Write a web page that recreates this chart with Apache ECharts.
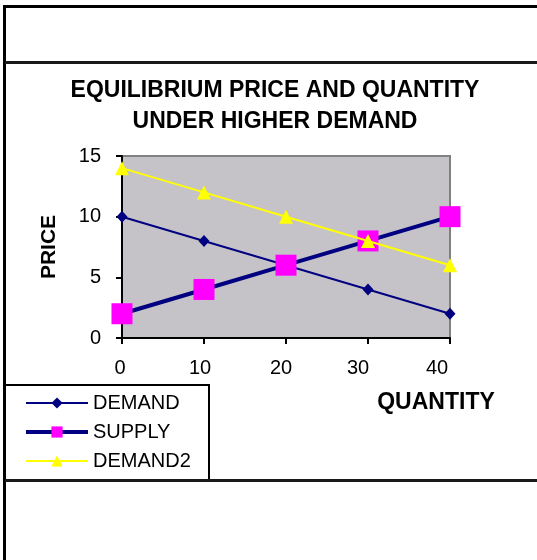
<!DOCTYPE html>
<html>
<head>
<meta charset="utf-8">
<script src="https://cdn.jsdelivr.net/npm/echarts@6/dist/echarts.min.js"></script>
<style>
  html, body { margin: 0; padding: 0; background: #fff; }
  #chart { width: 537px; height: 560px; }
</style>
</head>
<body>
<div id="chart"></div>
<script>
// Quantities along the horizontal axis
const quantities = ['0', '10', '20', '30', '40'];
// Price for each quantity
const demand = [10, 8, 6, 4, 2];
const supply = [2, 4, 6, 8, 10];
const demand2 = [14, 12, 10, 8, 6];
// Price axis range
const priceMin = 0;
const priceMax = 15;
const priceStep = 5;

const FONT = '"Liberation Sans", Arial, sans-serif';

// small per-label nudges for the quantity labels
const labelShift = [2, 4, 5, 10, 13];
const rich = {};
labelShift.forEach((s, i) => {
  rich['q' + i] = { fontSize: 20, fontFamily: FONT, color: '#000', padding: [0, s * 2, 0, 0] };
});

const chart = echarts.init(document.getElementById('chart'), null, { renderer: 'canvas' });

chart.setOption({
  animation: false,
  backgroundColor: '#fff',
  title: {
    text: 'EQUILIBRIUM PRICE AND QUANTITY\nUNDER HIGHER DEMAND',
    left: 270,
    textAlign: 'center',
    top: 70,
    textStyle: {
      fontFamily: FONT,
      fontWeight: 'bold',
      fontSize: 23,
      lineHeight: 31,
      color: '#000'
    }
  },
  grid: {
    left: 122,
    right: 87,
    top: 156,
    bottom: 222,
    show: true,
    backgroundColor: '#c5c3c7',
    borderColor: '#808080',
    borderWidth: 2
  },
  xAxis: {
    type: 'category',
    data: quantities,
    boundaryGap: false,
    axisLine: { lineStyle: { color: '#000', width: 2 } },
    axisTick: { show: true, length: 6, alignWithLabel: true, lineStyle: { color: '#000', width: 2 } },
    axisLabel: {
      margin: 20,
      interval: 0,
      formatter: (v, i) => '{q' + i + '|' + v + '}',
      rich: rich
    },
    splitLine: { show: false }
  },
  yAxis: {
    type: 'value',
    min: priceMin,
    max: priceMax,
    interval: priceStep,
    name: 'PRICE',
    nameLocation: 'middle',
    nameRotate: 90,
    nameGap: 62,
    nameTextStyle: {
      fontFamily: FONT,
      fontWeight: 'bold',
      fontSize: 21,
      color: '#000'
    },
    axisLine: { show: true, lineStyle: { color: '#000', width: 2 } },
    axisTick: { show: true, length: 6, lineStyle: { color: '#000', width: 2 } },
    axisLabel: {
      margin: 21,
      fontFamily: FONT,
      fontSize: 20,
      color: '#000'
    },
    splitLine: { show: false }
  },
  legend: {
    orient: 'vertical',
    left: 19,
    top: 388,
    itemWidth: 62,
    itemHeight: 14,
    itemGap: 9,
    textStyle: { fontFamily: FONT, fontSize: 20, color: '#000' },
    data: [
      { name: 'DEMAND', lineStyle: { width: 2 } },
      { name: 'SUPPLY', lineStyle: { width: 4 } },
      { name: 'DEMAND2', lineStyle: { width: 2 } }
    ]
  },
  series: [
    {
      name: 'DEMAND',
      type: 'line',
      data: demand,
      symbol: 'diamond',
      symbolSize: [11, 12],
      lineStyle: { color: '#000080', width: 2 },
      itemStyle: { color: '#000080' },
      z: 2
    },
    {
      name: 'SUPPLY',
      type: 'line',
      data: supply,
      symbol: 'rect',
      symbolSize: 21,
      lineStyle: { color: '#000080', width: 4 },
      itemStyle: { color: '#ff00ff' },
      z: 3
    },
    {
      name: 'DEMAND2',
      type: 'line',
      data: demand2,
      symbol: 'triangle',
      symbolSize: 14,
      lineStyle: { color: '#ffff00', width: 2 },
      itemStyle: { color: '#ffff00' },
      z: 4
    }
  ],
  graphic: [
    // outer frame: top and left edges
    { type: 'rect', shape: { x: 3, y: 5, width: 534, height: 3 }, style: { fill: '#000' } },
    { type: 'rect', shape: { x: 3, y: 5, width: 3, height: 555 }, style: { fill: '#000' } },
    // divider above the chart
    { type: 'rect', shape: { x: 5, y: 61, width: 532, height: 3 }, style: { fill: '#1a1a1a' } },
    // divider below the chart
    { type: 'rect', shape: { x: 5, y: 479, width: 532, height: 3 }, style: { fill: '#1a1a1a' } },
    // legend box
    {
      type: 'rect',
      z: -1,
      shape: { x: 5, y: 385, width: 204, height: 95 },
      style: { fill: '#fff', stroke: '#000', lineWidth: 2 }
    },
    // horizontal axis title
    {
      type: 'text',
      x: 436,
      y: 403,
      style: {
        text: 'QUANTITY',
        fontFamily: FONT,
        fontWeight: 'bold',
        fontSize: 23,
        fill: '#000',
        align: 'center',
        verticalAlign: 'middle'
      }
    }
  ]
});
</script>
</body>
</html>
